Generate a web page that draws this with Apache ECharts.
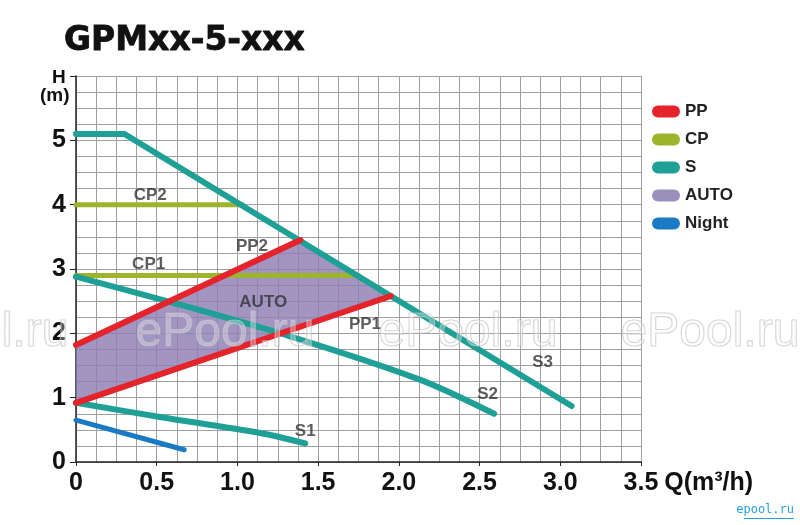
<!DOCTYPE html>
<html>
<head>
<meta charset="utf-8">
<script src="https://cdn.jsdelivr.net/npm/echarts@6/dist/echarts.min.js"></script>
<style>
html,body{margin:0;padding:0;background:#fff;}
#chart{width:800px;height:525px;}
</style>
</head>
<body>
<div id="chart"></div>
<script>
// ---- data (Q in m³/h, H in m) ----
const xTicks = [0, 0.5, 1.0, 1.5, 2.0, 2.5, 3.0, 3.5];
const yTicks = [0, 1, 2, 3, 4, 5];

const s3Q = [0, 0.30, 3.07];
const s3H = [5.10, 5.10, 0.87];
const s2Q = [0, 0.58, 1.33, 2.13, 2.59];
const s2H = [2.88, 2.49, 1.95, 1.28, 0.75];
const s1Q = [0, 0.52, 1.14, 1.42];
const s1H = [0.92, 0.70, 0.45, 0.29];
const nightQ = [0, 0.67];
const nightH = [0.65, 0.19];
const cp2Q = [0, 1.03];
const cp2H = [4.0, 4.0];
const cp1Q = [0, 1.75];
const cp1H = [2.9, 2.9];
const pp2Q = [0, 1.39];
const pp2H = [1.82, 3.45];
const pp1Q = [0, 1.95];
const pp1H = [0.92, 2.58];
const autoQ = [0, 1.95, 1.39, 0];
const autoH = [0.92, 2.58, 3.45, 1.82];

const curveLabels = ['CP2', 'CP1', 'PP2', 'AUTO', 'PP1', 'S3', 'S2', 'S1'];
const curveLabelQ = [0.46, 0.45, 1.09, 1.16, 1.79, 2.89, 2.55, 1.42];
const curveLabelH = [4.14, 3.08, 3.36, 2.48, 2.14, 1.55, 1.05, 0.47];

const legendNames = ['PP', 'CP', 'S', 'AUTO', 'Night'];

// ---- styles ----
const C = {
  PP: '#e4232a',
  CP: '#9cb52c',
  S: '#1ea096',
  AUTO: '#9b8fbb',
  Night: '#1a7bc4'
};
const FONT = '"Liberation Sans", Arial, sans-serif';
const pairs = (q, h) => q.map((v, i) => [v, h[i]]);

function lineSeries(name, q, h, width, smooth) {
  return {
    type: 'line', name: name, data: pairs(q, h),
    showSymbol: false, symbol: 'none', silent: true, smooth: smooth || false,
    color: C[name],
    lineStyle: { color: C[name], width: width, cap: 'round', join: 'miter' }
  };
}

const chart = echarts.init(document.getElementById('chart'), null, { renderer: 'canvas' });

function wm(x) {
  return {
    type: 'text', z: 100, left: x, top: 308, silent: true,
    style: {
      text: 'ePool.ru', font: '48px "Liberation Sans", Arial, sans-serif',
      fill: 'rgba(255,255,255,0.3)', stroke: 'rgba(185,185,185,0.7)', lineWidth: 1.1
    }
  };
}

const capsule = 'path://M6,0 L22,0 A6,6 0 0 1 22,12 L6,12 A6,6 0 0 1 6,0 Z';

const option = {
  animation: false,
  backgroundColor: '#fff',
  title: {
    text: 'GPMxx-5-xxx', left: 59, top: 20,
    textStyle: { fontFamily: '"DejaVu Sans", sans-serif', fontWeight: 'bold', fontSize: 33, color: '#111',
      textBorderColor: '#111', textBorderWidth: 0.8 }
  },
  legend: {
    orient: 'vertical', left: 647, top: 98, itemWidth: 28, itemHeight: 13, itemGap: 11,
    icon: capsule,
    data: legendNames,
    textStyle: { fontFamily: FONT, fontWeight: 'bold', fontSize: 17, color: '#222' },
    selectedMode: false
  },
  grid: { left: 76, right: 159, top: 76, bottom: 63, containLabel: false },
  xAxis: {
    type: 'value', min: 0, max: 3.5, interval: 0.5,
    name: 'Q(m³/h)', nameLocation: 'end', nameGap: 3,
    nameTextStyle: { fontFamily: FONT, fontWeight: 'bold', fontSize: 25, color: '#111', verticalAlign: 'top', align: 'left', padding: [9, 0, 0, 0] },
    axisLine: { show: true, lineStyle: { color: '#222', width: 1.5 } },
    axisTick: { show: true, length: 4, lineStyle: { color: '#222' } },
    axisLabel: {
      margin: 9, fontFamily: FONT, fontWeight: 'bold', fontSize: 25, color: '#111',
      formatter: v => { const t = xTicks.find(x => Math.abs(x - v) < 1e-6); return t === undefined ? '' : (t === 0 ? '0' : t.toFixed(1)); }
    },
    splitLine: { show: true, lineStyle: { color: '#a0a0a0', width: 1 } },
    minorTick: { show: false, splitNumber: 4 },
    minorSplitLine: { show: true, lineStyle: { color: '#a0a0a0', width: 1 } }
  },
  yAxis: {
    type: 'value', min: 0, max: 6, interval: 1,
    axisLine: { show: true, lineStyle: { color: '#222', width: 1.5 } },
    axisTick: { show: true, length: 6, lineStyle: { color: '#222' } },
    axisLabel: {
      margin: 10, fontFamily: FONT, fontWeight: 'bold', fontSize: 25, color: '#111',
      formatter: v => yTicks.indexOf(v) >= 0 ? String(v) : ''
    },
    splitLine: { show: true, lineStyle: { color: '#a0a0a0', width: 1 } },
    minorTick: { show: false, splitNumber: 4 },
    minorSplitLine: { show: true, lineStyle: { color: '#a0a0a0', width: 1 } }
  },
  graphic: [
    { type: 'text', left: 52, top: 68, z: 50, style: { text: 'H', font: 'bold 19px "Liberation Sans", Arial, sans-serif', fill: '#111' } },
    { type: 'text', left: 40, top: 86, z: 50, style: { text: '(m)', font: 'bold 19px "Liberation Sans", Arial, sans-serif', fill: '#111' } },
    wm(-111), wm(135), wm(378), wm(620),
    { type: 'text', right: 6, top: 504, z: 50, style: { text: 'epool.ru', font: '12px "DejaVu Sans Mono", monospace', fill: '#23a2dc' } },
    { type: 'rect', right: 6, top: 518, z: 50, shape: { width: 50, height: 1 }, style: { fill: '#23a2dc' } }
  ],
  series: [
    {
      type: 'custom', name: 'AUTO', coordinateSystem: 'cartesian2d', silent: true,
      color: C.AUTO,
      itemStyle: { color: C.AUTO },
      data: pairs(autoQ, autoH),
      encode: { x: 0, y: 1 },
      renderItem: function (params, api) {
        if (params.dataIndex !== 0) return null;
        const pts = autoQ.map((q, i) => api.coord([q, autoH[i]]));
        return { type: 'polygon', shape: { points: pts }, style: { fill: 'rgba(142,126,180,0.82)' } };
      }
    },
    lineSeries('CP', cp2Q, cp2H, 5),
    lineSeries('CP', cp1Q, cp1H, 5),
    lineSeries('S', s1Q, s1H, 6, 0.3),
    lineSeries('S', s2Q, s2H, 6, 0.3),
    lineSeries('S', s3Q, s3H, 6),
    lineSeries('PP', pp2Q, pp2H, 6),
    lineSeries('PP', pp1Q, pp1H, 6),
    lineSeries('Night', nightQ, nightH, 5),
    {
      type: 'scatter', name: 'labels', silent: true, symbolSize: 0,
      itemStyle: { color: 'rgba(0,0,0,0)' },
      data: pairs(curveLabelQ, curveLabelH),
      label: {
        show: true, position: 'inside', formatter: p => curveLabels[p.dataIndex],
        fontFamily: FONT, fontWeight: 'bold', fontSize: 17, color: '#333'
      },
      z: 20
    }
  ]
};
chart.setOption(option);
</script>
</body>
</html>
